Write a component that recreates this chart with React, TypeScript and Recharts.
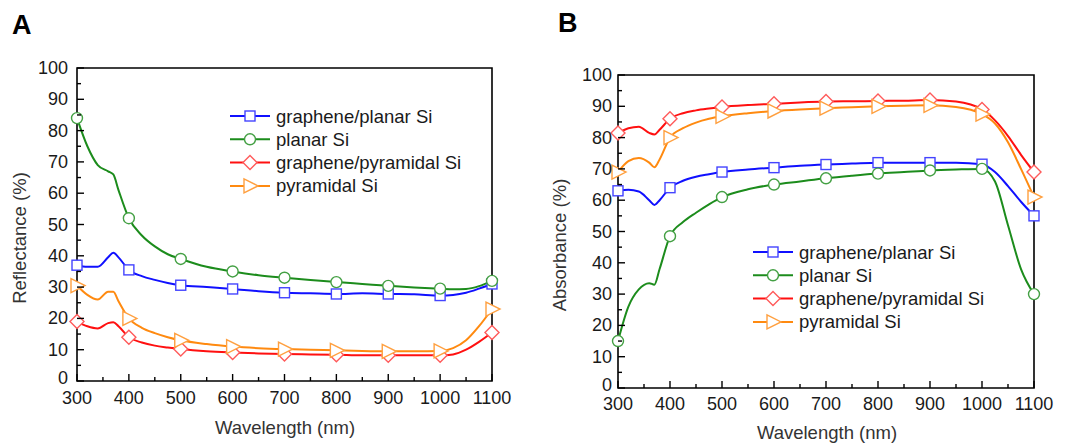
import React from 'react';
import { LineChart, Line, XAxis, YAxis, ReferenceArea, Legend } from 'recharts';

// sampling wavelengths (nm) shared by every curve
const wavelengths = [300, 320, 340, 360, 370, 380, 400, 425, 450, 475, 500, 550, 600, 650, 700, 750, 800, 850, 900, 950, 1000, 1025, 1050, 1075, 1100];

// panel A: reflectance (%)
const reflGraphenePlanar = [37, 36.5, 36.5, 39.5, 41, 39.5, 35.5, 33.5, 32.3, 31.3, 30.6, 30, 29.4, 28.7, 28.2, 28, 27.8, 28, 27.8, 27.7, 27.3, 27.5, 28.2, 29.5, 31];
const reflPlanar = [84, 75, 69, 67, 66, 61, 52, 46.5, 43, 40.5, 39, 36.5, 35, 33.8, 33, 32.3, 31.6, 31, 30.4, 29.9, 29.5, 29.3, 29.4, 30.3, 32];
const reflGraphenePyramidal = [19, 17.5, 16.8, 18.5, 18.8, 17.5, 14, 12.3, 11.3, 10.7, 10.2, 9.5, 9.1, 8.8, 8.6, 8.5, 8.4, 8.2, 8.2, 8.2, 8.2, 8.5, 10, 12.5, 15.5];
const reflPyramidal = [30.5, 27.5, 26, 28.5, 28.5, 25.5, 20, 17, 15.3, 14, 13, 11.8, 11, 10.5, 10.2, 10, 9.8, 9.6, 9.5, 9.5, 9.6, 10.5, 13, 17.5, 23];

// panel B: absorbance (%)
const absGraphenePlanar = [63, 63.3, 62.8, 60, 58.5, 60, 64, 66.2, 67.5, 68.3, 69, 69.8, 70.4, 71, 71.4, 71.7, 72, 72, 72, 72, 71.5, 69, 64.5, 59.5, 55];
const absPlanar = [15, 26, 31.5, 33.5, 33, 38, 48.5, 53, 56, 58.7, 61, 63.5, 65, 66, 67, 67.8, 68.5, 69, 69.5, 69.8, 70, 66, 52, 38, 30];
const absGraphenePyramidal = [81.5, 83, 83.5, 81.5, 81, 82.5, 86, 87.8, 88.7, 89.3, 89.8, 90.4, 90.8, 91.2, 91.5, 91.6, 91.7, 91.8, 92, 91.5, 89, 85.5, 80.5, 74.5, 69];
const absPyramidal = [69, 72.5, 73.5, 72, 70.5, 73, 80, 83, 84.8, 86, 86.8, 87.8, 88.5, 89, 89.4, 89.7, 90, 90.2, 90.3, 89.8, 87.5, 84.5, 78.5, 70, 61];

const seriesNames = ['graphene/planar Si', 'planar Si', 'graphene/pyramidal Si', 'pyramidal Si'];
const seriesKeys = ['gp', 'p', 'gpy', 'py'];
const lineColors = ['#1010ff', '#1c8c1c', '#ff1010', '#ff8a10'];
const markerColors = ['#4444ff', '#44a044', '#ff5a5a', '#ffa040'];
const markerShapes = ['square', 'circle', 'diamond', 'triangle'];

const xTicks = [300, 400, 500, 600, 700, 800, 900, 1000, 1100];
const yTicks = [0, 10, 20, 30, 40, 50, 60, 70, 80, 90, 100];
const xAllTicks = [...xTicks, ...xTicks.slice(1).map((t) => t - 50)].sort((a, b) => a - b);
const yAllTicks = [...yTicks, ...yTicks.slice(1).map((t) => t - 5)].sort((a, b) => a - b);

const FONT = '"Liberation Sans", Arial, sans-serif';

const buildRows = (cols: number[][]) =>
  wavelengths.map((wl, i) => {
    const row: any = { wl };
    seriesKeys.forEach((k, j) => (row[k] = cols[j][i]));
    return row;
  });

const reflData = buildRows([reflGraphenePlanar, reflPlanar, reflGraphenePyramidal, reflPyramidal]);
const absData = buildRows([absGraphenePlanar, absPlanar, absGraphenePyramidal, absPyramidal]);

function Marker({ shape, cx, cy, color }: any) {
  const common = { fill: '#fff', stroke: color, strokeWidth: 1.4 };
  if (shape === 'square') return <rect x={cx - 5} y={cy - 5} width={10} height={10} {...common} />;
  if (shape === 'circle') return <circle cx={cx} cy={cy} r={5.5} {...common} />;
  if (shape === 'diamond')
    return <polygon points={`${cx},${cy - 7} ${cx + 7},${cy} ${cx},${cy + 7} ${cx - 7},${cy}`} {...common} />;
  return <polygon points={`${cx - 6},${cy - 7} ${cx + 8},${cy} ${cx - 6},${cy + 7}`} {...common} />;
}

const makeDot = (i: number) => (p: any) =>
  p.payload.wl % 100 === 0 ? (
    <Marker key={`d${i}-${p.index}`} shape={markerShapes[i]} cx={p.cx} cy={p.cy} color={markerColors[i]} />
  ) : (
    <g key={`d${i}-${p.index}`} />
  );

const XTick = ({ x, y, payload, labelGap }: any) => {
  const major = payload.value % 100 === 0;
  return (
    <g>
      <line x1={x} x2={x} y1={y} y2={y - (major ? 7 : 4)} stroke="#000" strokeWidth={1.4} />
      {major && (
        <text x={x} y={y + labelGap} textAnchor="middle" fontSize={18} fontFamily={FONT} fill="#1a1a1a">
          {payload.value}
        </text>
      )}
    </g>
  );
};

const YTick = ({ x, y, payload, labelGap }: any) => {
  const major = payload.value % 10 === 0;
  // the "0" sits a touch higher so it clears the first x label
  const baseline = payload.value === 0 ? y + 3 : y + 6;
  return (
    <g>
      <line x1={x} x2={x + (major ? 7 : 4)} y1={y} y2={y} stroke="#000" strokeWidth={1.4} />
      {major && (
        <text x={x - labelGap} y={baseline} textAnchor="end" fontSize={18} fontFamily={FONT} fill="#1a1a1a">
          {payload.value}
        </text>
      )}
    </g>
  );
};

const YTitle = ({ cx, cy, value }: any) => (
  <text transform={`translate(${cx},${cy}) rotate(-90)`} textAnchor="middle" dominantBaseline="central" fontSize={18.5} fontFamily={FONT} fill="#333">
    {value}
  </text>
);

const XTitle = ({ cx, cy, value }: any) => (
  <text x={cx} y={cy} textAnchor="middle" dominantBaseline="central" fontSize={18.5} fontFamily={FONT} fill="#333">
    {value}
  </text>
);

const LegendBox = () => (
  <svg width={300} height={95} style={{ display: 'block' }}>
    {seriesNames.map((name, i) => {
      const y = 10 + i * 23.3;
      return (
        <g key={name}>
          <line x1={2} x2={42} y1={y} y2={y} stroke={lineColors[i]} strokeWidth={2} />
          <Marker shape={markerShapes[i]} cx={22} cy={y} color={markerColors[i]} />
          <text x={48} y={y + 6.5} fontSize={18.5} fontFamily={FONT} fill="#1a1a1a">
            {name}
          </text>
        </g>
      );
    })}
  </svg>
);

function Panel({ data, margin, labelGapX, labelGapY, yTitle, yTitlePos, xTitlePos, legendPos }: any) {
  return (
    <LineChart width={530} height={443} data={data} margin={margin}>
      <XAxis
        dataKey="wl"
        type="number"
        domain={[300, 1100]}
        ticks={xAllTicks}
        interval={0}
        height={50}
        axisLine={false}
        tickLine={false}
        tickSize={0}
        tickMargin={0}
        tick={<XTick labelGap={labelGapX} />}
        label={<XTitle cx={xTitlePos[0]} cy={xTitlePos[1]} value="Wavelength (nm)" />}
      />
      <YAxis
        type="number"
        domain={[0, 100]}
        ticks={yAllTicks}
        interval={0}
        width={70}
        axisLine={false}
        tickLine={false}
        tickSize={0}
        tickMargin={0}
        tick={<YTick labelGap={labelGapY} />}
        label={<YTitle cx={yTitlePos[0]} cy={yTitlePos[1]} value={yTitle} />}
      />
      <ReferenceArea x1={300} x2={1100} y1={0} y2={100} fill="none" stroke="#000" strokeWidth={1.6} />
      {seriesKeys.map((k, i) => (
        <Line
          key={k}
          type="monotone"
          dataKey={k}
          name={seriesNames[i]}
          stroke={lineColors[i]}
          strokeWidth={2}
          dot={makeDot(i)}
          activeDot={false}
          isAnimationActive={false}
        />
      ))}
      <Legend
        layout="vertical"
        align="center"
        verticalAlign="middle"
        content={() => <LegendBox />}
        wrapperStyle={{ left: legendPos[0], top: legendPos[1], width: 300, height: 95 }}
      />
    </LineChart>
  );
}

export default function App() {
  return (
    <div style={{ position: 'absolute', left: 0, top: 0, width: 1065, height: 443, background: '#fff', overflow: 'hidden' }}>
      <div style={{ position: 'absolute', left: 12, top: 10, fontFamily: FONT, fontWeight: 'bold', fontSize: 27 }}>A</div>
      <div style={{ position: 'absolute', left: 558, top: 8, fontFamily: FONT, fontWeight: 'bold', fontSize: 27 }}>B</div>
      <div style={{ position: 'absolute', left: 0, top: 0 }}>
        <Panel
          data={reflData}
          margin={{ top: 68, right: 38, bottom: 12, left: 7 }}
          labelGapX={23}
          labelGapY={9}
          yTitle="Reflectance (%)"
          yTitlePos={[19, 238]}
          xTitlePos={[285, 427]}
          legendPos={[228, 106]}
        />
      </div>
      <div style={{ position: 'absolute', left: 535, top: 0 }}>
        <Panel
          data={absData}
          margin={{ top: 75, right: 31, bottom: 5, left: 13 }}
          labelGapX={22}
          labelGapY={6}
          yTitle="Absorbance (%)"
          yTitlePos={[24, 245]}
          xTitlePos={[292, 432]}
          legendPos={[216, 242]}
        />
      </div>
    </div>
  );
}
